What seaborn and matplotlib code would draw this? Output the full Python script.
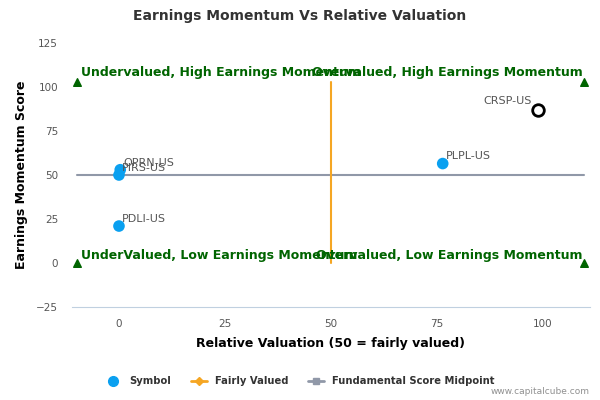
import matplotlib
matplotlib.use('Agg')
import matplotlib.pyplot as plt
from matplotlib.lines import Line2D
import seaborn as sns
import pandas as pd

# points
symbols = ['OPRN-US', 'PIRS-US', 'PDLI-US', 'PLPL-US', 'CRSP-US']
rel_valuation = [0.3, 0.0, 0.0, 76.5, 99.0]
momentum_score = [53, 50, 21, 56.5, 87]
is_focus = [False, False, False, False, True]

fair_value_x = [50, 50]
fair_value_y = [0, 103]
midpoint_x = [-10, 110]
midpoint_y = [50, 50]
corner_x = [-10, 110, -10, 110]
corner_y = [103, 103, 0, 0]

x_ticks = [0, 25, 50, 75, 100]
y_ticks = [-25, 0, 25, 50, 75, 100, 125]

df = pd.DataFrame({'symbol': symbols, 'x': rel_valuation, 'y': momentum_score, 'focus': is_focus})

sns.set_style('white')
plt.rcParams['font.family'] = ['DejaVu Sans']

fig = plt.figure(figsize=(6, 4), dpi=100)
ax = fig.add_axes([0.12, 0.2325, 0.8633, 0.66])

green = '#006400'
blue = '#0aa0f0'

ax.plot(midpoint_x, midpoint_y, color='#9098a8', lw=1.5, zorder=1)
ax.plot(fair_value_x, fair_value_y, color='#f5a623', lw=1.5, zorder=1)
ax.scatter(corner_x, corner_y, marker='^', color=green, s=30, zorder=2)

sns.scatterplot(data=df[~df.focus], x='x', y='y', color=blue, s=70, edgecolor='none', ax=ax, zorder=3)
sns.scatterplot(data=df[df.focus], x='x', y='y', facecolor='white', edgecolor='black', linewidth=2, s=70, ax=ax, zorder=3)

for s, xv, yv, f in zip(symbols, rel_valuation, momentum_score, is_focus):
    if f:
        ax.annotate(s, (xv, yv), xytext=(-39, 4), textcoords='offset points', fontsize=8, color='#555555')
    else:
        ax.annotate(s, (xv, yv), xytext=(2, 3), textcoords='offset points', fontsize=8, color='#555555')

ax.text(-9, 108, 'Undervalued, High Earnings Momentum', color=green, fontsize=9, fontweight='bold', va='center', ha='left')
ax.text(109.5, 108, 'Overvalued, High Earnings Momentum', color=green, fontsize=9, fontweight='bold', va='center', ha='right')
ax.text(-9, 4.5, 'UnderValued, Low Earnings Momentum', color=green, fontsize=9, fontweight='bold', va='center', ha='left')
ax.text(109.5, 4.5, 'Overvalued, Low Earnings Momentum', color=green, fontsize=9, fontweight='bold', va='center', ha='right')

ax.set_xlim(-11.1, 111.3)
ax.set_ylim(-25, 125)
ax.set_xticks(x_ticks)
ax.set_yticks(y_ticks)
ax.tick_params(axis='x', colors='#c0d0e0', length=5, width=1, labelcolor='#555555', labelsize=7.5)
ax.tick_params(axis='y', length=0, labelcolor='#555555', labelsize=7.5, pad=10)
for side in ['top', 'right', 'left']:
    ax.spines[side].set_visible(False)
ax.spines['bottom'].set_color('#c0d0e0')

ax.set_xlabel('Relative Valuation (50 = fairly valued)', fontsize=9, fontweight='bold', color='black', labelpad=6)
ax.set_ylabel('Earnings Momentum Score', fontsize=9, fontweight='bold', color='black', labelpad=6)
fig.text(0.5, 0.96, 'Earnings Momentum Vs Relative Valuation', ha='center', va='center', fontsize=10,
         fontweight='bold', color='#333333')

handles = [
    Line2D([], [], marker='o', color=blue, ls='none', markersize=7),
    Line2D([], [], marker='D', color='#f5a623', lw=2, markersize=4),
    Line2D([], [], marker='s', color='#9098a8', lw=2, markersize=5),
]
fig.legend(handles, ['Symbol', 'Fairly Valued', 'Fundamental Score Midpoint'], loc='center', bbox_to_anchor=(0.5, 0.047),
           ncol=3, frameon=False, prop={'size': 7.2, 'weight': 'bold'}, labelcolor='#333333', handlelength=1.6, columnspacing=2)
fig.text(0.983, 0.02, 'www.capitalcube.com', ha='right', va='center', fontsize=6.5, color='#909090')

fig.savefig('out.png', dpi=100)
